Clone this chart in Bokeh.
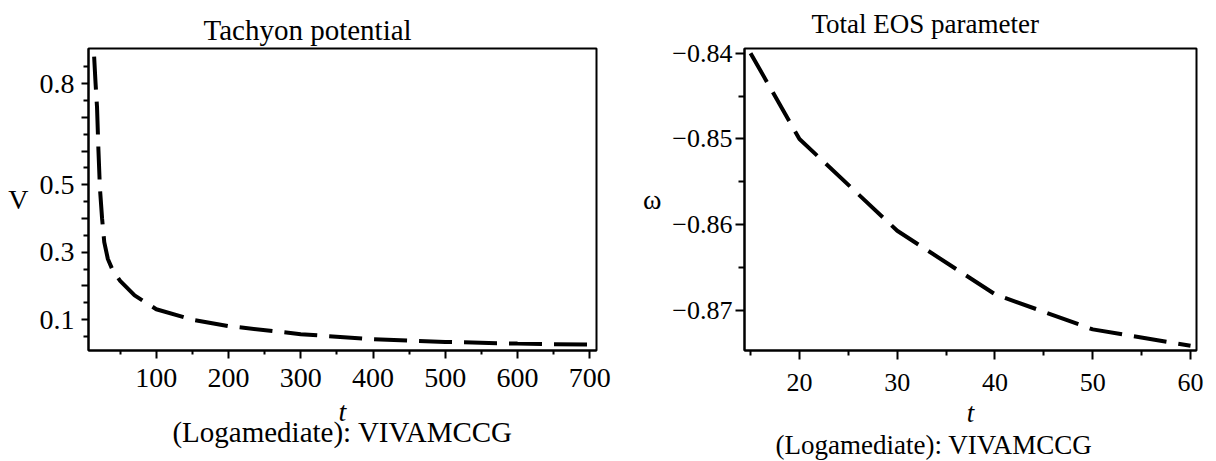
from bokeh.plotting import figure
from bokeh.layouts import row
from bokeh.models import Range1d, FixedTicker, CustomJSTickFormatter, Title, Axis
from bokeh.embed import file_html
from bokeh.resources import INLINE

# ---- data: left panel (Tachyon potential) ----
t_left = [14, 16, 18, 20, 22, 25, 28, 33, 40, 50, 70, 100, 150, 200, 300, 400, 500, 600, 700]
V_left = [0.88, 0.80, 0.73, 0.60, 0.49, 0.40, 0.33, 0.28, 0.245, 0.215, 0.172, 0.131, 0.100,
          0.081, 0.057, 0.042, 0.034, 0.029, 0.026]

# ---- data: right panel (Total EOS parameter) ----
t_right = [15, 20, 30, 40, 50, 60]
w_right = [-0.840, -0.850, -0.8607, -0.8681, -0.8722, -0.8741]

# ---- ticks ----
left_xticks = [100, 200, 300, 400, 500, 600, 700]
left_xminor = [50, 150, 250, 350, 450, 550, 650]
left_yticks = [0.1, 0.2, 0.3, 0.4, 0.5, 0.6, 0.7, 0.8]
left_ylabels = [0.1, 0.3, 0.5, 0.8]
left_yminor = [0.05, 0.15, 0.25, 0.35, 0.45, 0.55, 0.65, 0.75, 0.85]
right_xticks = [20, 30, 40, 50, 60]
right_xminor = [15, 25, 35, 45, 55]
right_yticks = [-0.87, -0.86, -0.85, -0.84]
right_yminor = [-0.865, -0.855, -0.845]

FONT = "Liberation Serif"
HAS_ORIENT = "axis_label_orientation" in Axis.properties()


def set_standoff(obj, attr, val, fallback=0):
    try:
        setattr(obj, attr, val)
    except Exception:
        setattr(obj, attr, fallback)


def make_fig(width, height, mb_left, mb_top, fw, fh, xr, yr):
    p = figure(width=width, height=height, output_backend="svg", toolbar_location=None,
               x_range=Range1d(*xr), y_range=Range1d(*yr),
               min_border_left=mb_left, min_border_right=width - mb_left - fw,
               min_border_top=mb_top, min_border_bottom=height - mb_top - fh)
    p.outline_line_color = "black"
    p.outline_line_width = 2
    p.outline_line_alpha = 1
    p.xgrid.visible = False
    p.ygrid.visible = False
    p.background_fill_color = "white"
    p.border_fill_color = "white"
    p.title.text = ""
    return p


def style_axes(p, lab_size, xtick_out, xminor_out, ytick_out, yminor_out, xstand, ystand):
    for ax in p.axis:
        ax.axis_line_width = 2
        ax.axis_line_color = "black"
        ax.major_tick_line_width = 2
        ax.minor_tick_line_width = 2
        ax.major_tick_line_color = "black"
        ax.minor_tick_line_color = "black"
        ax.major_tick_in = 0
        ax.minor_tick_in = 0
        ax.major_label_text_font = FONT
        ax.major_label_text_font_size = lab_size
        ax.major_label_text_color = "black"
        ax.axis_label_text_font = FONT
        ax.axis_label_text_color = "black"
    p.xaxis.major_tick_out = xtick_out
    p.xaxis.minor_tick_out = xminor_out
    p.yaxis.major_tick_out = ytick_out
    p.yaxis.minor_tick_out = yminor_out
    p.xaxis.major_label_standoff = xstand
    p.yaxis.major_label_standoff = ystand


def labels(p, ylabel, ysize, ystand, xsize, xstand, title, tsize, toffset, tstand,
           sub, ssize, salign, soffset, sstand, spacer=None):
    p.yaxis.axis_label = ylabel
    p.yaxis.axis_label_text_font_size = ysize
    p.yaxis.axis_label_text_font_style = "normal"
    p.yaxis.axis_label_standoff = ystand
    if HAS_ORIENT:
        p.yaxis.axis_label_orientation = "horizontal"
    p.xaxis.axis_label = "t"
    p.xaxis.axis_label_text_font_size = xsize
    p.xaxis.axis_label_text_font_style = "italic"
    set_standoff(p.xaxis[0], "axis_label_standoff", xstand)
    if spacer is not None:
        p.add_layout(Title(text=" ", text_font=FONT, text_font_size=spacer, standoff=0), "above")
    t = Title(text=title, align="left", offset=toffset, text_font=FONT, text_font_size=tsize,
              text_font_style="normal", text_color="black")
    set_standoff(t, "standoff", tstand)
    p.add_layout(t, "above")
    s = Title(text=sub, align=salign, offset=soffset, text_font=FONT, text_font_size=ssize,
              text_font_style="normal", text_color="black", vertical_align="top")
    set_standoff(s, "standoff", sstand)
    p.add_layout(s, "below")


# ---- left figure ----
p1 = make_fig(620, 460, 88, 48, 508, 302, (6.2, 709.3), (0.0086, 0.904))
p1.line(t_left, V_left, line_color="black", line_width=4, line_dash="33 12")
p1.xaxis.ticker = FixedTicker(ticks=left_xticks, minor_ticks=left_xminor)
p1.yaxis.ticker = FixedTicker(ticks=left_yticks, minor_ticks=left_yminor)
p1.yaxis.formatter = CustomJSTickFormatter(
    args=dict(show=left_ylabels),
    code="return show.some(v => Math.abs(v - tick) < 1e-6) ? tick.toFixed(1) : '';")
style_axes(p1, "28px", 8, 4, 7, 5, 10, 7)
labels(p1, "V", "28px", 8, "28px", 6, "Tachyon potential", "29px", 115, 5,
       "(Logamediate): VIVAMCCG", "29px", "center", 0, -28)

# ---- right figure ----
p2 = make_fig(595, 460, 124, 42, 452, 318, (14.38, 60.61), (-0.87466, -0.83945))
p2.line(t_right, w_right, line_color="black", line_width=4, line_dash="33 12")
p2.xaxis.ticker = FixedTicker(ticks=right_xticks, minor_ticks=right_xminor)
p2.yaxis.ticker = FixedTicker(ticks=right_yticks, minor_ticks=right_yminor)
p2.yaxis.formatter = CustomJSTickFormatter(
    code="return (tick < 0 ? '\u2212' : '') + Math.abs(tick).toFixed(2);")
style_axes(p2, "26px", 9, 5, 9, 6, 14, 3)
labels(p2, "\u03c9", "28px", 8, "27px", 4, "Total EOS parameter", "27px", 67, 0,
       "(Logamediate): VIVAMCCG", "27px", "left", 31, -2, spacer="7px")

layout = row(p1, p2)
open("out.html", "w").write(file_html(layout, INLINE))
